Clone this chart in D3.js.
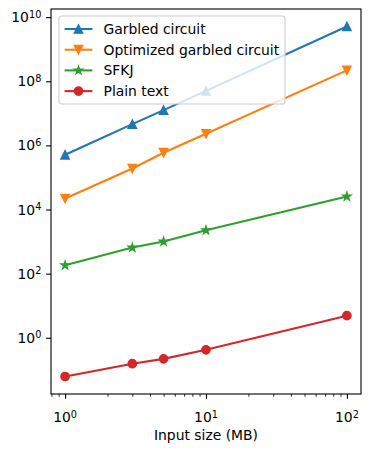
<!DOCTYPE html>
<html>
<head>
<meta charset="utf-8">
<script src="https://cdn.jsdelivr.net/npm/d3@7"></script>
<style>
  html, body { margin: 0; padding: 0; background: #fff; }
  svg { display: block; font-family: "DejaVu Sans", sans-serif; }
</style>
</head>
<body>
<svg id="chart" width="371" height="452"></svg>
<script>
const inputSizes = [1, 3, 5, 10, 100];
const seriesNames = ["Garbled circuit", "Optimized garbled circuit", "SFKJ", "Plain text"];
const garbled = [5.1e5, 4.6e6, 1.26e7, 5.0e7, 5.1e9];
const optimized = [2.2e4, 1.9e5, 5.9e5, 2.3e6, 2.2e8];
const sfkj = [182, 650, 1000, 2250, 2.55e4];
const plain = [0.062, 0.155, 0.22, 0.42, 4.9];
const seriesColors = ["#1f77b4", "#ff7f0e", "#2ca02c", "#d62728"];
const seriesMarkers = ["triangleUp", "triangleDown", "star", "circle"];
const xTickValues = [1, 10, 100];
const yTickValues = [1, 1e2, 1e4, 1e6, 1e8, 1e10];
const xLabel = "Input size (MB)";

const seriesValues = [garbled, optimized, sfkj, plain];
const series = seriesNames.map((name, i) => ({
  name, color: seriesColors[i], marker: seriesMarkers[i],
  points: inputSizes.map((x, j) => ({x, y: seriesValues[i][j]}))
}));

const svg = d3.select("#chart");
const L = 51, R = 361, T = 9, B = 394;

const x = d3.scaleLog().domain([Math.pow(10, -0.1), Math.pow(10, 2.1)]).range([L, R]);
const allY = seriesValues.flat();
const lmin = Math.log10(d3.min(allY)), lmax = Math.log10(d3.max(allY));
const pad = (lmax - lmin) * 0.05;
const y = d3.scaleLog().domain([Math.pow(10, lmin - pad), Math.pow(10, lmax + pad)]).range([B, T]);

function markerPath(type) {
  const s = 4.17;
  if (type === "triangleUp") return `M0,${-s}L${-s},${s}L${s},${s}Z`;
  if (type === "triangleDown") return `M0,${s}L${-s},${-s}L${s},${-s}Z`;
  if (type === "star") {
    const r1 = s, r2 = s * 0.381966;
    let p = "";
    for (let k = 0; k < 10; k++) {
      const r = k % 2 === 0 ? r1 : r2;
      const a = -Math.PI / 2 + k * Math.PI / 5;
      p += (k === 0 ? "M" : "L") + (r * Math.cos(a)).toFixed(3) + "," + (r * Math.sin(a)).toFixed(3);
    }
    return p + "Z";
  }
  return d3.symbol(d3.symbolCircle, Math.PI * s * s)();
}

// data
const line = d3.line().x(d => x(d.x)).y(d => y(d.y));
series.forEach(s => {
  const g = svg.append("g");
  g.append("path").attr("d", line(s.points)).attr("fill", "none")
    .attr("stroke", s.color).attr("stroke-width", 2.08).attr("stroke-linecap", "square");
  g.selectAll("path.m").data(s.points).join("path").attr("class", "m")
    .attr("transform", d => `translate(${x(d.x)},${y(d.y)})`)
    .attr("d", markerPath(s.marker))
    .attr("fill", s.color).attr("stroke", s.color).attr("stroke-width", 1.39)
    .attr("stroke-linejoin", "miter");
});

// axes frame
svg.append("rect").attr("x", L).attr("y", T).attr("width", R - L).attr("height", B - T)
  .attr("fill", "none").attr("stroke", "#000").attr("stroke-width", 1.1);

function supLabel(sel, exp) {
  sel.append("tspan").text("10");
  sel.append("tspan").text(exp).attr("dy", "-0.45em").attr("font-size", "9.7px");
}

// x axis
const xAxis = d3.axisBottom(x).tickValues(xTickValues).tickSize(4.86).tickPadding(4.86).tickFormat("");
const gx = svg.append("g").attr("transform", `translate(0,${B})`).call(xAxis);
gx.select(".domain").remove();
gx.selectAll(".tick line").attr("stroke-width", 1.1);
const minor = [];
[0.1, 1, 10, 100].forEach(d => { for (let k = 2; k <= 9; k++) { const v = d * k; if (v >= x.domain()[0] && v <= x.domain()[1]) minor.push(v); } });
const xMinor = d3.axisBottom(x).tickValues(minor).tickSize(2.78).tickFormat("");
const gxm = svg.append("g").attr("transform", `translate(0,${B})`).call(xMinor);
gxm.select(".domain").remove();
gxm.selectAll(".tick line").attr("stroke-width", 0.83);
xTickValues.forEach(v => {
  const t = svg.append("text").attr("x", x(v)).attr("y", 422).attr("text-anchor", "middle")
    .attr("font-size", "13.9px").attr("fill", "#000");
  supLabel(t, String(Math.round(Math.log10(v))));
});
svg.append("text").attr("x", (L + R) / 2).attr("y", 440).attr("text-anchor", "middle")
  .attr("font-size", "13.9px").attr("fill", "#000").text(xLabel);

// y axis
const yAxis = d3.axisLeft(y).tickValues(yTickValues).tickSize(4.86).tickFormat("");
const gy = svg.append("g").attr("transform", `translate(${L},0)`).call(yAxis);
gy.select(".domain").remove();
gy.selectAll(".tick line").attr("stroke-width", 1.1);
yTickValues.forEach(v => {
  const t = svg.append("text").attr("x", 41.3).attr("y", y(v) + 5).attr("text-anchor", "end")
    .attr("font-size", "13.9px").attr("fill", "#000");
  supLabel(t, String(Math.round(Math.log10(v))));
});

// legend
const lg = svg.append("g").attr("transform", "translate(59,16)");
lg.append("rect").attr("width", 226).attr("height", 88).attr("rx", 2.8)
  .attr("fill", "#fff").attr("fill-opacity", 0.8).attr("stroke", "#cccccc").attr("stroke-width", 1.1);
series.forEach((s, i) => {
  const cy = 13 + i * 20.7;
  lg.append("line").attr("x1", 5.6).attr("x2", 33.4).attr("y1", cy).attr("y2", cy)
    .attr("stroke", s.color).attr("stroke-width", 2.08);
  lg.append("path").attr("transform", `translate(19.5,${cy})`).attr("d", markerPath(s.marker))
    .attr("fill", s.color).attr("stroke", s.color).attr("stroke-width", 1.39);
  lg.append("text").attr("x", 44.5).attr("y", cy + 5).attr("font-size", "13.9px")
    .attr("fill", "#000").text(s.name);
});
</script>
</body>
</html>
